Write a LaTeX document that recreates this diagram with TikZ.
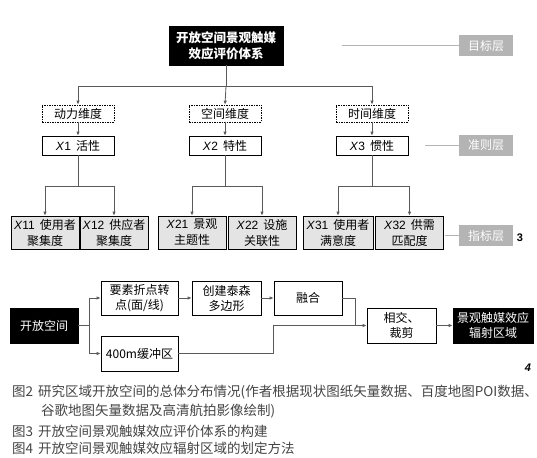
\documentclass[tikz,border=0pt]{standalone}
\usepackage{fontspec}
\setmainfont{Liberation Sans}
\newfontfamily\cjk{Noto Sans CJK SC}
\usetikzlibrary{arrows.meta}
\definecolor{ln}{HTML}{5A5A5A}
\definecolor{boxg}{HTML}{E4E4E4}
\definecolor{lab}{HTML}{B4B4B4}
\definecolor{cap}{HTML}{444444}
\newcommand\xv[1]{{\rmfamily\itshape X\/}{\rmfamily #1}\hspace{5pt}}
\tikzset{
  base/.style={rectangle, draw=black, line width=0.7pt, align=center, inner sep=0pt, font=\cjk\fontsize{12}{15}\selectfont},
  blackbox/.style={base, fill=black, text=white},
  dimbox/.style={base, dashed, dash pattern=on 1.5pt off 1pt, minimum width=72pt, minimum height=17pt},
  critbox/.style={base, fill=white, minimum width=72pt, minimum height=19pt},
  indbox/.style={base, fill=boxg, minimum width=68pt, minimum height=33pt, font=\cjk\fontsize{12}{16}\selectfont},
  flowbox/.style={base, fill=white, minimum height=34pt},
  layer/.style={rectangle, fill=lab, text=white, minimum width=54pt, minimum height=21pt, inner sep=0pt, font=\cjk\fontsize{12}{14}\selectfont},
  conn/.style={draw=ln, line width=0.8pt},
  arr/.style={conn, -{Latex[length=4pt,width=3.5pt]}},
  thin/.style={draw=lab, line width=0.8pt},
  captxt/.style={anchor=west, inner sep=0pt, text=cap, font=\cjk\fontsize{13.5}{15}\selectfont}
}
\begin{document}
\begin{tikzpicture}[x=1pt,y=-1pt]
\useasboundingbox (0,0) rectangle (537,457);
% ---------- Figure 3 ----------
\node[blackbox, minimum width=114pt, minimum height=39pt, font=\cjk\bfseries\fontsize{12.5}{15.5}\selectfont] (top) at (226,45.5) {开放空间景观触媒\\效应评价体系};
\node[dimbox] (d1) at (78,113.5) {动力维度};
\node[dimbox] (d2) at (225,113.5) {空间维度};
\node[dimbox] (d3) at (372,113.5) {时间维度};
\node[critbox] (c1) at (78,145.5) {\xv{1}活性};
\node[critbox] (c2) at (225,145.5) {\xv{2}特性};
\node[critbox] (c3) at (372,145.5) {\xv{3}惯性};
\node[indbox] (i11) at (45,232.5) {\xv{11}使用者\\聚集度};
\node[indbox] (i12) at (114,232.5) {\xv{12}供应者\\聚集度};
\node[indbox] (i21) at (192,232.5) {\xv{21}景观\\主题性};
\node[indbox] (i22) at (262,232.5) {\xv{22}设施\\关联性};
\node[indbox, minimum width=70pt] (i31) at (338,232.5) {\xv{31}使用者\\满意度};
\node[indbox] (i32) at (409.5,232.5) {\xv{32}供需\\匹配度};
\node[layer] (l1) at (486,45.5) {目标层};
\node[layer] (l2) at (486,145.5) {准则层};
\node[layer] (l3) at (486,235.5) {指标层};
\coordinate (l1s) at (342,45.5);
\coordinate (l2s) at (425,145.5);
\coordinate (l3s) at (445,235.5);
\draw[thin] (l1s) -- (l1.west);
\draw[thin] (l2s) -- (l2.west);
\draw[thin] (l3s) -- (l3.west);
\coordinate (hb) at (226,86);
\draw[conn] (top.south) -- (hb);
\draw[arr] (hb) -| (d1.north);
\draw[arr] (hb) -- (d2.north);
\draw[arr] (hb) -| (d3.north);
\draw[arr] (d1) -- (c1);
\draw[arr] (d2) -- (c2);
\draw[arr] (d3) -- (c3);
\coordinate (b1) at (78,186);
\coordinate (b2) at (225,186);
\coordinate (b3) at (372,186);
\draw[conn] (c1.south) -- (b1);
\draw[conn] (c2.south) -- (b2);
\draw[conn] (c3.south) -- (b3);
\draw[arr] (b1) -| (i11.north);
\draw[arr] (b1) -| (i12.north);
\draw[arr] (b2) -| (i21.north);
\draw[arr] (b2) -| (i22.north);
\draw[arr] (b3) -| (i31.north);
\draw[arr] (b3) -| (i32.north);
\node[font=\bfseries\fontsize{11}{13}\selectfont, inner sep=0pt] (n3) at (520,238) {3};
% ---------- Figure 4 ----------
\node[blackbox, minimum width=68pt, minimum height=35pt] (f0) at (44,325.5) {开放空间};
\node[flowbox, minimum width=77pt] (f1) at (139.5,298) {要素折点转\\点(面/线)};
\node[flowbox, minimum width=69pt] (f2) at (226.5,298) {创建泰森\\多边形};
\node[flowbox, minimum width=77pt, minimum height=35pt] (f3) at (139.5,353.5) {400m缓冲区};
\node[flowbox, minimum width=68pt] (f4) at (308,298) {融合};
\node[flowbox, minimum width=69pt, minimum height=35pt] (f5) at (401.5,325.5) {相交、\\裁剪};
\node[blackbox, minimum width=80pt, minimum height=35pt] (f6) at (493,325.5) {景观触媒效应\\辐射区域};
\coordinate (s0) at (89,325.5);
\draw[conn] (f0.east) -- (s0);
\draw[arr] (s0) |- (f1.west);
\draw[arr] (s0) |- (f3.west);
\draw[arr] (f1) -- (f2);
\draw[arr] (f2) -- (f4);
\coordinate (m1) at (355,298);
\coordinate (m2) at (355,325.5);
\draw[conn] (f4.east) -- (m1) -- (m2);
\coordinate (k1) at (273,353.5);
\coordinate (k2) at (273,325.5);
\draw[conn] (f3.east) -- (k1) -- (k2);
\draw[arr] (k2) -- (f5.west);
\draw[arr] (f5) -- (f6);
\node[font=\bfseries\itshape\fontsize{11}{13}\selectfont, inner sep=0pt] (n4) at (528,368) {4};
% ---------- captions ----------
\node[captxt] (cp2) at (12,392) {图2\hspace{5pt}研究区域开放空间的总体分布情况(作者根据现状图纸矢量数据、百度地图POI数据、};
\node[captxt] (cp2b) at (41,411) {谷歌地图矢量数据及高清航拍影像绘制)};
\node[captxt] (cp3) at (12,431) {图3\hspace{5pt}开放空间景观触媒效应评价体系的构建};
\node[captxt] (cp4) at (12,448.5) {图4\hspace{5pt}开放空间景观触媒效应辐射区域的划定方法};
\end{tikzpicture}
\end{document}
